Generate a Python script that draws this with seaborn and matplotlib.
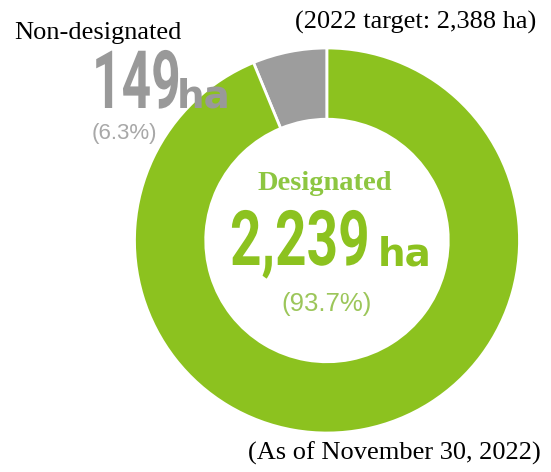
import matplotlib
matplotlib.use('Agg')
import matplotlib.pyplot as plt
import seaborn as sns
from matplotlib.patheffects import AbstractPathEffect
from matplotlib.transforms import Affine2D, Bbox
from matplotlib.text import Text

# data
labels = ['Non-designated', 'Designated']
areas = [149, 2239]
shares = [6.3, 93.7]
target = 2388
as_of = 'November 30, 2022'

green = '#8cc21f'
gray = '#9d9d9d'

sns.set_theme(style='white')
plt.rcParams['font.family'] = ['DejaVu Sans']

W, H = 551, 472
fig = plt.figure(figsize=(W / 100, H / 100), dpi=100)
fig.patch.set_facecolor('white')


class Squeeze(AbstractPathEffect):
    # narrows glyphs horizontally around the left anchor (condensed look)
    def __init__(self, sx, cx):
        super().__init__()
        self.sx = sx
        self.cx = cx

    def draw_path(self, renderer, gc, tpath, affine, rgbFace=None):
        t = affine + Affine2D().translate(-self.cx, 0).scale(self.sx, 1).translate(self.cx, 0)
        renderer.draw_path(gc, tpath, t, rgbFace)


class CondensedText(Text):
    # left-anchored text drawn narrower; the extent follows the drawn width
    def __init__(self, x, y, s, sx=0.7, **kw):
        super().__init__(x, y, s, **kw)
        self.sx = sx

    def _anchor_px(self):
        return self.get_transform().transform((self._x, self._y))[0]

    def draw(self, renderer):
        self.set_path_effects([Squeeze(self.sx, self._anchor_px())])
        super().draw(renderer)

    def get_window_extent(self, renderer=None, dpi=None):
        bb = super().get_window_extent(renderer, dpi)
        x0 = self._anchor_px()
        return Bbox([[x0 + (bb.x0 - x0) * self.sx, bb.y0],
                     [x0 + (bb.x1 - x0) * self.sx, bb.y1]])


def txt(x, y, s, **kw):
    return fig.text(x / W, 1 - y / H, s, **kw)


def ctxt(x, y, s, sx, **kw):
    t = CondensedText(x / W, 1 - y / H, s, sx=sx, transform=fig.transFigure, **kw)
    fig.add_artist(t)
    return t


# donut, centre (327, 240.5), outer radius 192.5 px
cx, cy, r = 327, 240.5, 192.5
ax = fig.add_axes([(cx - r) / W, (H - cy - r) / H, 2 * r / W, 2 * r / H])
ax.pie(areas, colors=[gray, green], startangle=90, counterclock=True, radius=1,
       wedgeprops=dict(width=0.37, edgecolor='white', linewidth=2))
ax.set_xlim(-1, 1)
ax.set_ylim(-1, 1)
ax.axis('off')

serif = 'Liberation Serif'
sans = 'Liberation Sans'

txt(14, 39, labels[0], family=serif, fontsize=19, color='black', va='baseline')
txt(295, 29, f'({as_of[-4:]} target: {target:,} ha)', family=serif, fontsize=19,
    color='black', va='baseline')
txt(248, 460, f'(As of {as_of})', family=serif, fontsize=19, color='black', va='baseline')

# non-designated figures
ctxt(92, 108, f'{areas[0]:,}', 0.64, family='Roboto', fontweight='bold', fontsize=58,
     color='#999999', va='baseline')
txt(177, 108, 'ha', family='DejaVu Sans', fontweight='bold', fontsize=28,
    color='#999999', va='baseline')
txt(92, 134, f'({shares[0]}%)', family=sans, fontsize=16, color='#a8a8a8', va='center')

# designated figures
txt(325, 190, labels[1], family=serif, fontweight='bold', fontsize=20.5,
    color='#8dc641', ha='center', va='baseline')
ctxt(230, 265, f'{areas[1]:,}', 0.72, family='Roboto', fontweight='bold', fontsize=55,
     color=green, va='baseline')
txt(378, 265, 'ha', family='DejaVu Sans', fontweight='bold', fontsize=28,
    color=green, va='baseline')
txt(327, 304, f'({shares[1]}%)', family=sans, fontsize=18.5, color='#9cc65a',
    ha='center', va='center')

fig.savefig('out.png', dpi=100, facecolor='white')
